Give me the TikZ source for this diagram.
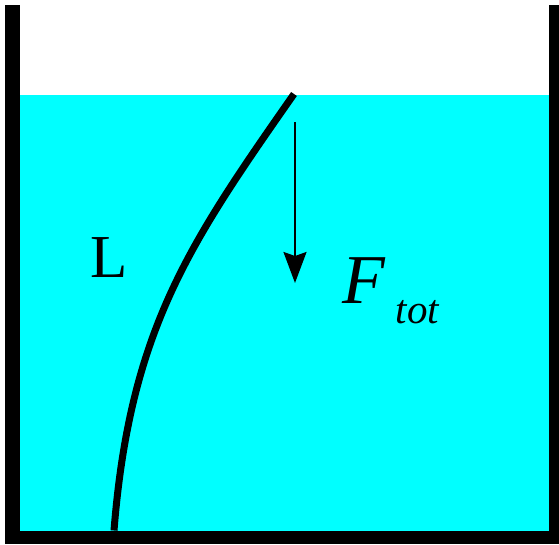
\documentclass[tikz,border=0pt]{standalone}
\usepackage{fontspec}
\setmainfont{Liberation Serif}
\usetikzlibrary{arrows.meta}
\definecolor{water}{RGB}{0,255,255}
\tikzset{
  wallpart/.style={fill=black, draw=none},
  rodline/.style={line width=7pt, line cap=butt, draw=black},
  forcearrow/.style={line width=2pt, -{Stealth[length=31pt,width=23pt,inset=4pt]}},
  lbl/.style={inner sep=0pt, outer sep=0pt, anchor=base west}
}
\begin{document}
\begin{tikzpicture}[x=1pt,y=-1pt]
\useasboundingbox (0,0) rectangle (559,544);
% water
\fill[water] (20,95) rectangle (549,531);
% container walls
\fill[wallpart] (5,5) rectangle (20,544);
\fill[wallpart] (549,5) rectangle (559,544);
\fill[wallpart] (5,530.5) rectangle (559,544);
% rod
\coordinate (rodtop) at (294,94);
\coordinate (rodbot) at (114,530.5);
\draw[rodline] (rodtop) .. controls (189,244) and (130,330) .. (rodbot);
% force arrow
\coordinate (fstart) at (295,122);
\coordinate (fend) at (295,283);
\draw[forcearrow] (fstart) -- (fend);
% labels
\node[lbl] (Llabel) at (90,277) {\fontsize{61}{61}\selectfont L};
\node[lbl] (Flabel) at (342,303) {\fontsize{70}{70}\selectfont\itshape F\kern11pt\raisebox{-20pt}{\fontsize{41}{41}\selectfont tot}};
\end{tikzpicture}
\end{document}
